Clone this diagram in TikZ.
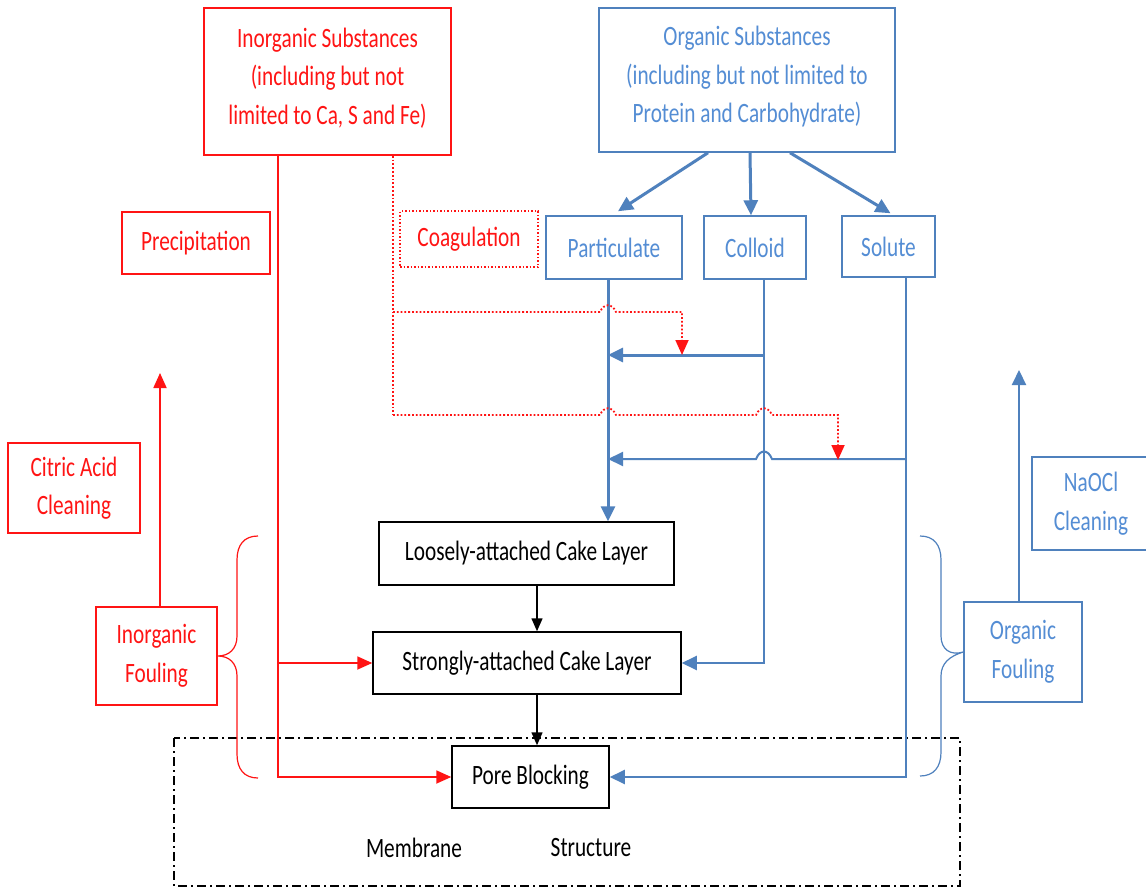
\documentclass[tikz,border=0pt]{standalone}
\usepackage{fontspec}
\setmainfont{Carlito}[FakeStretch=0.76]
\usetikzlibrary{arrows.meta,calc}
\definecolor{rd}{RGB}{255,20,20}
\definecolor{bl}{RGB}{79,129,189}
\definecolor{bt}{RGB}{84,141,212}
\begin{document}
\begin{tikzpicture}[x=1pt,y=-1pt,
  every node/.style={font=\fontsize{28}{38.5}\selectfont, align=center, inner sep=0pt},
  sz/.style 2 args={minimum width=#1pt, minimum height=#2pt},
  rbox/.style={draw=rd, line width=1.5pt, text=rd},
  bbox/.style={draw=bl, line width=1.5pt, text=bt},
  kbox/.style={draw=black, line width=1.5pt, text=black},
  rline/.style={draw=rd, line width=1.8pt},
  rdot/.style={draw=rd, line width=1.8pt, dotted},
  bthick/.style={draw=bl, line width=3pt},
  bthin/.style={draw=bl, line width=2pt},
  kline/.style={draw=black, line width=1.5pt},
  rtip/.style={-{Triangle[length=15pt,width=13pt]}},
  btip/.style={-{Triangle[length=15pt,width=14pt]}},
  ktip/.style={-{Triangle[length=13pt,width=11pt]}},
]
\useasboundingbox (0,0) rectangle (1146,888);
\fill[white] (0,0) rectangle (1146,888);

% nodes
\node[rbox, sz={247}{147}] (inorg) at (327.5,81.5) {Inorganic Substances\\(including but not\\limited to Ca, S and Fe)\\[-28pt]};
\node[bbox, sz={296}{144}] (org) at (747,80) {Organic Substances\\(including but not limited to\\Protein and Carbohydrate)\\[-28pt]};
\node[rbox, sz={148}{62}] (prec) at (196,243) {Precipitation};
\node[rbox, sz={138}{56}, dotted, line width=1.8pt] (coag) at (469,239) {Coagulation};
\node[bbox, sz={136}{63}] (part) at (614,247.5) {Particulate};
\node[bbox, sz={102}{63}] (coll) at (755,247.5) {Colloid};
\node[bbox, sz={93}{61}] (sol) at (888.5,246.5) {Solute};
\node[kbox, sz={295}{63}] (loose) at (526.5,553.5) {Loosely-attached Cake Layer};
\node[kbox, sz={308}{62}] (strong) at (527,663) {Strongly-attached Cake Layer};
\node[kbox, sz={157}{62}] (pore) at (530.5,777) {Pore Blocking};
\node[rbox, sz={132}{90}] (citric) at (74,488) {Citric Acid\\Cleaning};
\node[rbox, sz={121}{98}] (ifoul) at (156.5,656) {Inorganic\\Fouling};
\node[bbox, sz={118}{93}] (naocl) at (1091,503.5) {NaOCl\\Cleaning};
\node[bbox, sz={118}{100}] (ofoul) at (1023,652) {Organic\\Fouling};
\node (memb) at (414,848) {Membrane};
\node (struc) at (591,848) {Structure};

% membrane frame
\draw[line width=1.5pt, dash pattern=on 9pt off 4pt on 2pt off 4pt] (174,738) rectangle (960,886);

% helper coordinates
\coordinate (px) at (608,0);
\coordinate (cx) at (764,0);
\coordinate (sx) at (906,0);
\coordinate (rx) at (278,0);
\coordinate (dx) at (393,0);
\coordinate (bx) at (537,0);
\coordinate (cb) at (764,355);
\coordinate (sb) at (906,459);
\coordinate (d1) at (393,312);
\coordinate (d2) at (393,415);
\coordinate (ra) at (160,373);
\coordinate (ba) at (1019,370);

% organic to fractions
\draw[bthick, btip] ($(org.south)+(-39,0)$) -- ($(part.north)+(4,-4)$);
\draw[bthick, btip] ($(org.south)+(3,0)$) -- ($(coll.north)+(-4,0)$);
\draw[bthick, btip] ($(org.south)+(43,0)$) -- ($(sol.north)+(2,-2)$);

% particulate
\draw[bthick, btip] (part.south -| px) -- (loose.north -| px);
% colloid
\draw[bthin, btip] (coll.south -| cx) -- (cx |- strong.east) -- (strong.east);
\draw[bthick, btip] (cb) -- (px |- cb);
% solute
\draw[bthin, btip] (sol.south -| sx) -- (sx |- pore.east) -- (pore.east);
\draw[bthin, btip] (sb) -- (772,459) .. controls (768,449) and (760,449) .. (756,459) -- (px |- sb);

% inorganic
\draw[rline, rtip] (inorg.south -| rx) -- (rx |- pore.west) -- (pore.west);
\draw[rline, rtip] (rx |- strong.west) -- (strong.west);
\draw[rdot] (inorg.south -| dx) -- (d2);
\draw[rdot, rtip] (d1) -- (600,312) .. controls (604,303) and (612,303) .. (616,312) -- (682,312) -- (682,355);
\draw[rdot, rtip] (d2) -- (600,415) .. controls (604,406) and (612,406) .. (616,415) -- (756,415) .. controls (760,406) and (768,406) .. (772,415) -- (838,415) -- (838,460);

% cake sequence
\draw[kline, ktip] (loose.south -| bx) -- (strong.north -| bx);
\draw[kline, ktip] (strong.south -| bx) -- (pore.north -| bx);

% cleaning arrows
\draw[rline, rtip] (ifoul.north -| ra) -- (ra);
\draw[bthin, btip] (ofoul.north -| ba) -- (ba);

% braces
\draw[draw=rd, line width=1.2pt] (258,536) .. controls (244,536) and (237,545) .. (237,560) -- (237,636) .. controls (237,649) and (229,656) .. (ifoul.east) .. controls (229,656) and (237,663) .. (237,676) -- (237,754) .. controls (237,769) and (244,778) .. (258,778);
\draw[draw=bl, line width=1.2pt] (920,536) .. controls (934,536) and (941,545) .. (941,560) -- (941,636) .. controls (941,649) and (950,656) .. (ofoul.west) .. controls (950,656) and (941,663) .. (941,676) -- (941,752) .. controls (941,767) and (934,776) .. (920,776);
\end{tikzpicture}
\end{document}
